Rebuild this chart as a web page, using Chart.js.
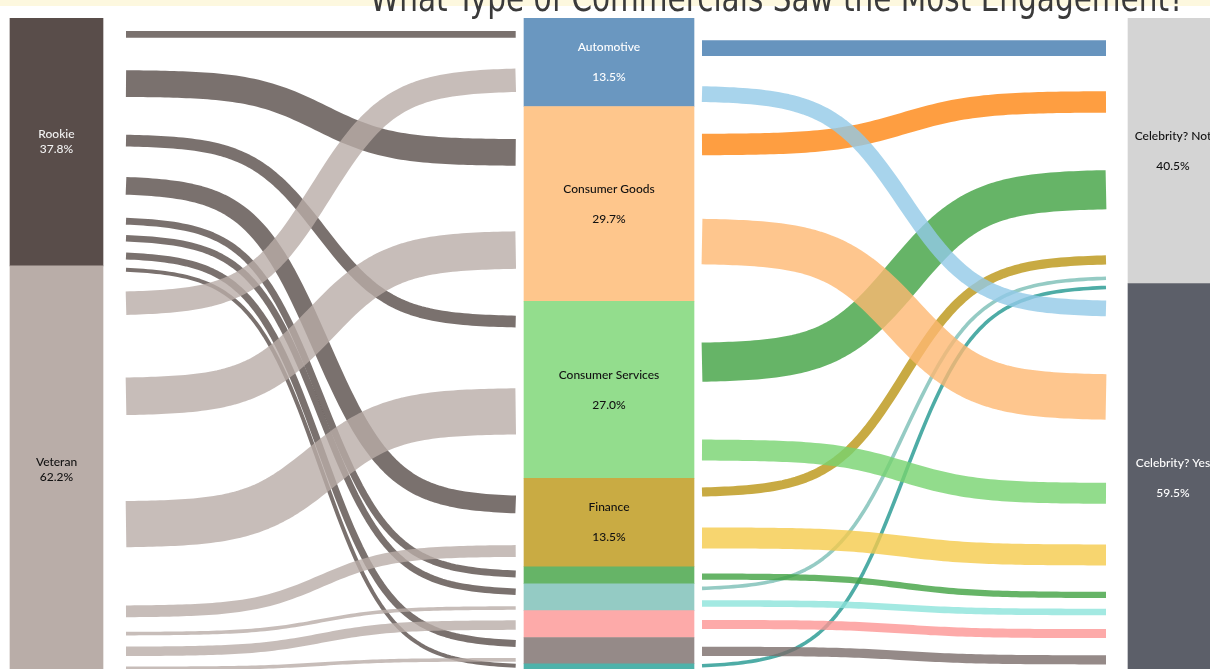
<!DOCTYPE html>
<html lang="en">
<head>
<meta charset="utf-8">
<title>Commercials</title>
<script src="https://cdn.jsdelivr.net/npm/chart.js@4.4.1/dist/chart.umd.min.js"></script>
<style>
  html, body { margin: 0; padding: 0; background: #fff; overflow: hidden; }
  #bandeau { position: absolute; left: 0; top: 0; width: 1210px; height: 6px; background: #fdf8df; }
  #titre {
    position: absolute; left: 370px; top: -20px; z-index: 2;
    font-family: "DejaVu Sans Condensed", "Liberation Sans", sans-serif;
    font-size: 37px; line-height: 37px; color: #3a3a3a; white-space: nowrap;
    transform-origin: 0 0;
  }
  #cadre { position: absolute; left: 0; top: 0; width: 1210px; height: 690px; }
</style>
</head>
<body>
<div id="bandeau"></div>
<div id="titre">What Type of Commercials Saw the Most Engagement?</div>
<div id="cadre"><canvas id="sankey"></canvas></div>
<script>
// ===== données =====
const experience = ["Rookie", "Veteran"];
const experiencePct = [37.8, 62.2];

const secteurs = ["Automotive", "Consumer Goods", "Consumer Services", "Finance", "", "", "", "", ""];
const secteursPct = [13.5, 29.7, 27.0, 13.5, 2.6, 4.1, 4.1, 4.0, 1.5];

const celebrite = ["Celebrity? Not", "Celebrity? Yes"];
const celebritePct = [40.5, 59.5];

// flux : [position de départ, position d'arrivée, épaisseur], en % de l'axe vertical
const fluxRookie = [
  [2.5, 2.5, 1.0], [10.0, 20.5, 4.07], [18.7, 46.3, 1.8], [25.6, 74.2, 2.7],
  [31.0, 84.8, 1.05], [33.6, 87.5, 1.0], [36.3, 95.4, 1.05], [38.4, 98.8, 0.6]
];
const fluxVeteran = [
  [43.5, 9.5, 3.57], [57.7, 35.4, 5.73], [77.2, 60.0, 7.04], [90.5, 81.3, 1.8],
  [93.9, 90.0, 0.55], [96.6, 92.6, 1.45], [99.2, 97.9, 0.55]
];
const fluxNot = [
  [4.6, 4.6, 2.4], [19.3, 12.8, 3.27], [52.5, 26.2, 5.98],
  [72.3, 36.9, 1.4], [87.0, 39.7, 0.55], [98.8, 41.1, 0.55]
];
const fluxYes = [
  [11.6, 44.3, 2.4], [34.1, 57.8, 6.94], [65.9, 72.5, 3.2], [79.3, 81.9, 3.2],
  [85.2, 88.0, 0.95], [89.3, 90.6, 1.0], [92.5, 93.9, 1.37], [96.6, 97.9, 1.4]
];

// ===== mise en forme =====
const colonnesX = [56.5, 609, 1173];
const largeursBarres = [93, 170, 90];
const fluxGaucheX = [126, 515.7];
const fluxDroiteX = [702, 1106];

const couleursExperience = ["#594d4a", "#b9ada8"];
const couleursSecteurs = ["#6a97c0", "#fec68c", "#93dd8d", "#c9ab43", "#66b467", "#94cbc4", "#fdaaa9", "#958a88", "#4fb2aa"];
const couleursCelebrite = ["#d4d4d4", "#5c5f69"];
const texteExperience = ["#f2f2f2", "#111111"];
const texteSecteurs = ["#ffffff", "#111111", "#111111", "#111111"];
const texteCelebrite = ["#111111", "#ffffff"];

const couleursNot = ["#4179ae", "#fe8612", "#40a141", "#ba9514", "#7bbeb5", "#229790"];
const couleursYes = ["#92c9e7", "#feb872", "#77d36f", "#f5cb4b", "#40a141", "#8ce4db", "#fc9594", "#7b6d6a"];

// titre resserré pour tenir dans sa largeur
const titre = document.getElementById("titre");
titre.style.transform = "scaleX(" + (815 / titre.scrollWidth) + ")";

function segments(x, pcts) {
  let debut = 0;
  return pcts.map(p => {
    const seg = { x: x, y: [debut, debut + p] };
    debut += p;
    return seg;
  });
}

const sigmoide = t => 1 / (1 + Math.exp(-t));

function tracerFlux(ctx, chart, xDebut, xFin, flux, couleur) {
  const xs = chart.scales.x, ys = chart.scales.y;
  const px0 = xs.getPixelForValue(xDebut), px1 = xs.getPixelForValue(xFin);
  const py0 = ys.getPixelForValue(flux[0]), py1 = ys.getPixelForValue(flux[1]);
  const epaisseur = Math.abs(ys.getPixelForValue(flux[2]) - ys.getPixelForValue(0));
  const k = 5.5, s0 = sigmoide(-k), s1 = sigmoide(k);
  ctx.beginPath();
  for (let i = 0; i <= 90; i++) {
    const f = i / 90;
    const s = (sigmoide(-k + 2 * k * f) - s0) / (s1 - s0);
    const x = px0 + (px1 - px0) * f;
    const y = py0 + (py1 - py0) * s;
    if (i === 0) ctx.moveTo(x, y); else ctx.lineTo(x, y);
  }
  ctx.strokeStyle = couleur;
  ctx.lineWidth = epaisseur;
  ctx.lineCap = "butt";
  ctx.lineJoin = "round";
  ctx.stroke();
}

// rubans entre les colonnes
const pluginFlux = {
  id: "flux",
  beforeDatasetsDraw(chart) {
    const ctx = chart.ctx;
    ctx.save();
    ctx.globalAlpha = 0.8;
    fluxRookie.forEach(f => tracerFlux(ctx, chart, fluxGaucheX[0], fluxGaucheX[1], f, couleursExperience[0]));
    fluxVeteran.forEach(f => tracerFlux(ctx, chart, fluxGaucheX[0], fluxGaucheX[1], f, couleursExperience[1]));
    fluxNot.forEach((f, i) => tracerFlux(ctx, chart, fluxDroiteX[0], fluxDroiteX[1], f, couleursNot[i]));
    fluxYes.forEach((f, i) => tracerFlux(ctx, chart, fluxDroiteX[0], fluxDroiteX[1], f, couleursYes[i]));
    ctx.restore();
  }
};

// libellés au centre de chaque barre
const pluginLibelles = {
  id: "libelles",
  afterDatasetsDraw(chart) {
    const ctx = chart.ctx;
    ctx.save();
    ctx.font = "500 12px Lato, 'Noto Sans', sans-serif";
    ctx.textAlign = "center";
    ctx.textBaseline = "middle";
    const groupes = [
      { noms: experience, pcts: experiencePct, couleurs: texteExperience, ecart: 15 },
      { noms: secteurs, pcts: secteursPct, couleurs: texteSecteurs, ecart: 30 },
      { noms: celebrite, pcts: celebritePct, couleurs: texteCelebrite, ecart: 30 }
    ];
    groupes.forEach((g, d) => {
      chart.getDatasetMeta(d).data.forEach((barre, i) => {
        if (!g.noms[i]) return;
        const cy = (barre.y + barre.base) / 2;
        ctx.fillStyle = g.couleurs[i];
        ctx.fillText(g.noms[i], barre.x, cy - g.ecart / 2);
        ctx.fillText(g.pcts[i].toFixed(1) + "%", barre.x, cy + g.ecart / 2);
      });
    });
    ctx.restore();
  }
};

new Chart(document.getElementById("sankey"), {
  type: "bar",
  data: {
    datasets: [
      { data: segments(colonnesX[0], experiencePct), backgroundColor: couleursExperience, barThickness: largeursBarres[0] },
      { data: segments(colonnesX[1], secteursPct), backgroundColor: couleursSecteurs, barThickness: largeursBarres[1] },
      { data: segments(colonnesX[2], celebritePct), backgroundColor: couleursCelebrite, barThickness: largeursBarres[2] }
    ]
  },
  options: {
    responsive: true,
    maintainAspectRatio: false,
    animation: false,
    layout: { padding: { top: 18, bottom: 16.4, left: 0, right: 0 } },
    datasets: { bar: { grouped: false, borderWidth: 0 } },
    plugins: {
      legend: { display: false },
      tooltip: { enabled: false },
      title: { display: false }
    },
    scales: {
      x: { type: "linear", min: 0, max: 1210, offset: false, display: false },
      y: { type: "linear", min: 0, max: 100, reverse: true, display: false }
    }
  },
  plugins: [pluginFlux, pluginLibelles]
});
</script>
</body>
</html>
